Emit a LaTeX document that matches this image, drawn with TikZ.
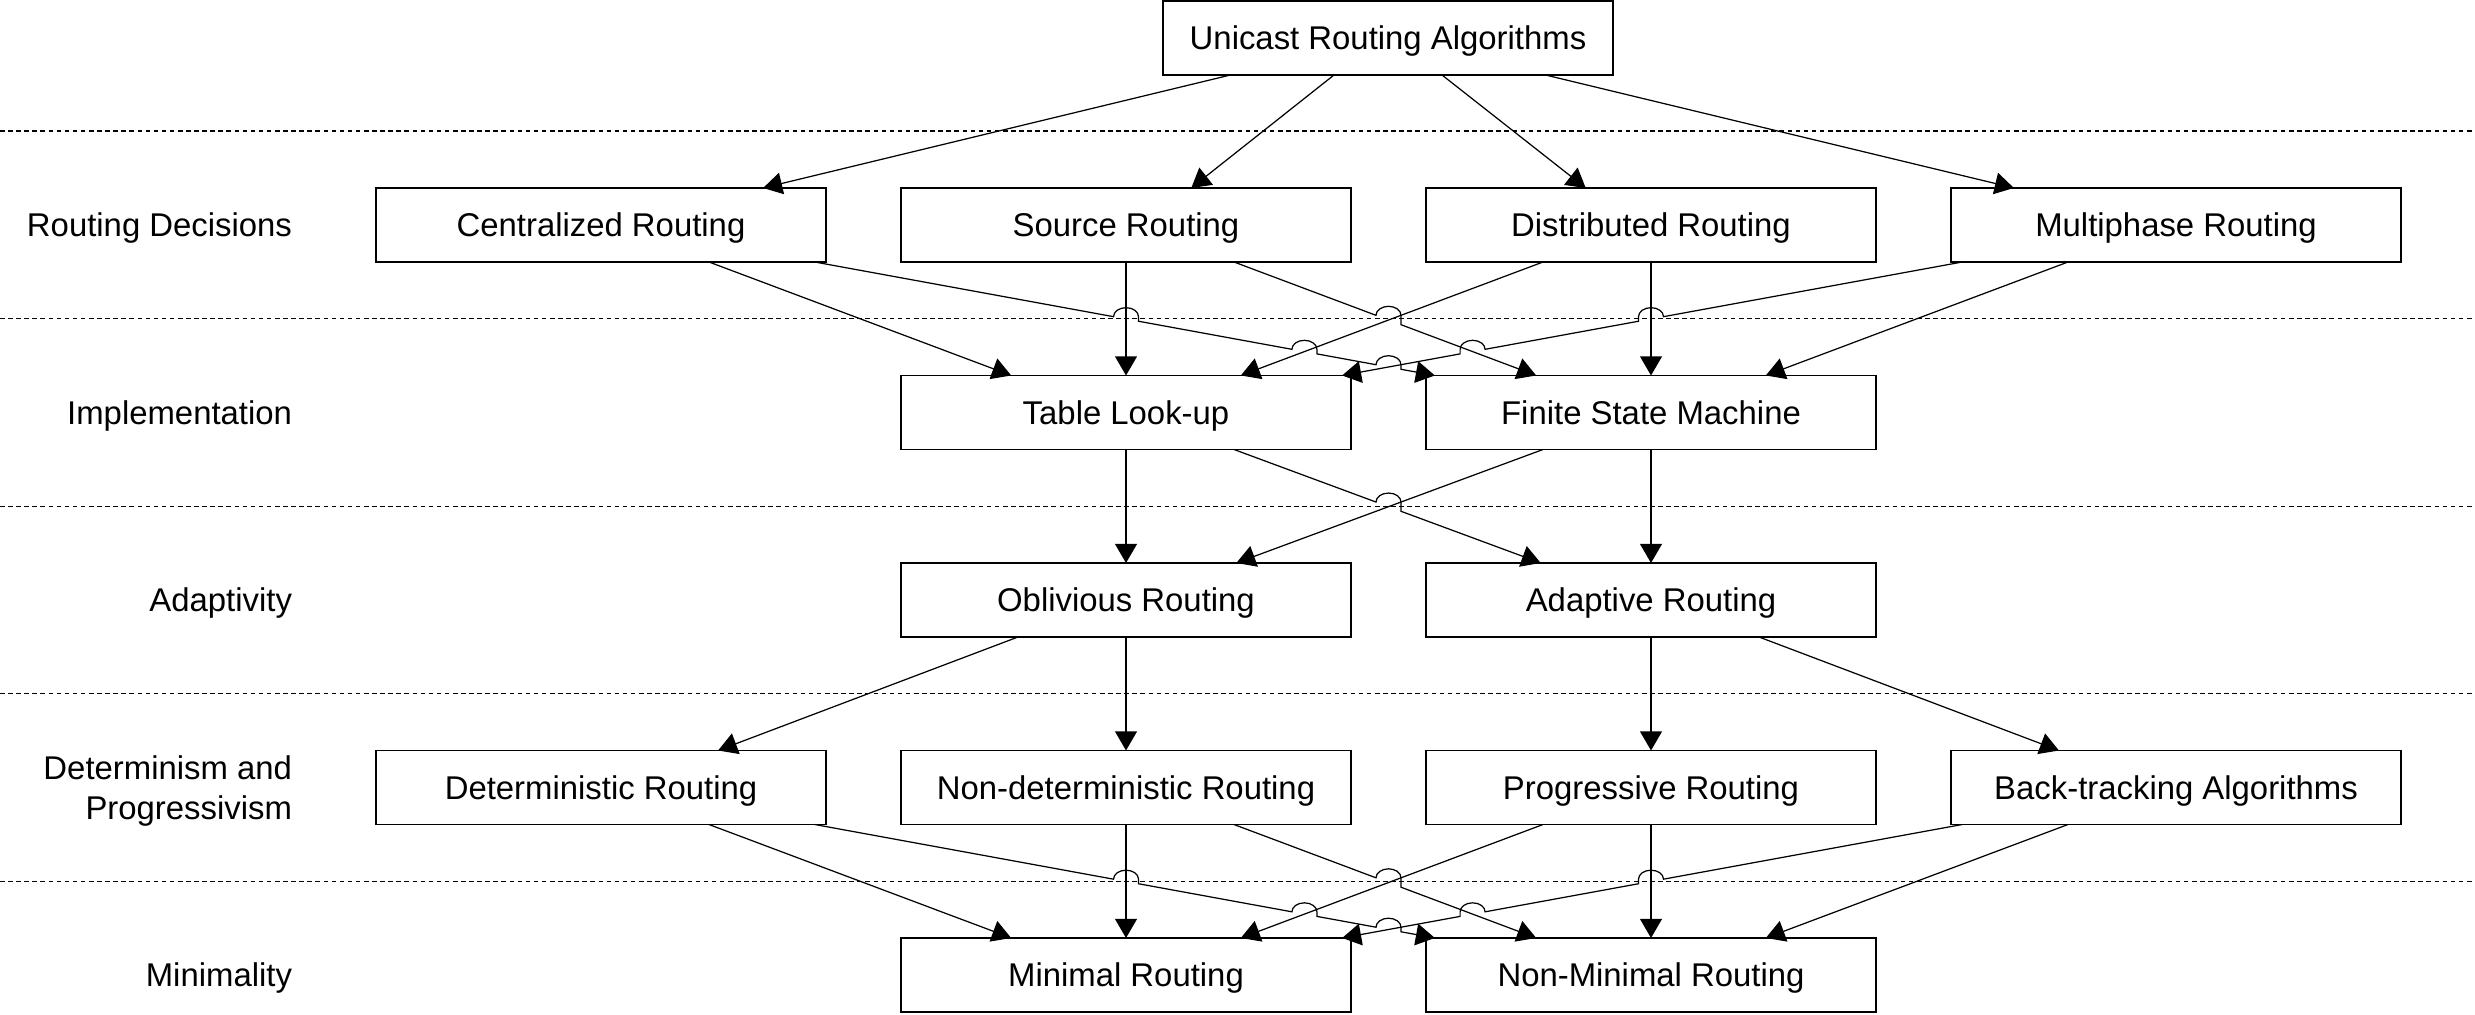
\documentclass[tikz,border=0pt]{standalone}
\usepackage{fontspec}
\setmainfont{Liberation Sans}
\usetikzlibrary{arrows.meta,calc}
\newcommand\fsz{\fontsize{9.35pt}{11.5pt}\selectfont}
\tikzset{
  box/.style={draw, line width=0.45pt, minimum width=4.5cm, minimum height=0.74cm,
              inner sep=0pt, outer sep=0pt, font=\fsz, text depth=0pt},
  lab/.style={inner sep=0pt, outer sep=0pt, font=\fsz, align=right, anchor=east, text depth=0pt},
  conn/.style={line width=0.35pt, -{Triangle[length=5.4pt,width=6.2pt]}},
  sepline/.style={line width=0.35pt, dash pattern=on 1.3pt off 1pt},
}
% bundle of 8 connectors between a row of 4 boxes and a row of 2 boxes, with line hops
\newcommand\bundle[7]{%
  \draw[conn] ($(#1.south west)!0.74!(#1.south east)$) -- ($(#5.north west)!0.245!(#5.north east)$);
  \draw[conn] ($(#1.south west)!0.975!(#1.south east)$)
     -- (1113.5,{#7-316.67}) arc[start angle=180,end angle=0,x radius=12.5,y radius=9]
     -- (1138.5,{#7-321.24}) -- (1291.9,{#7-349.31}) arc[start angle=180,end angle=0,x radius=12.5,y radius=9]
     -- (1316.9,{#7-353.89}) -- (1376,{#7-364.70}) arc[start angle=180,end angle=0,x radius=12.5,y radius=9]
     -- (1401,{#7-369.28}) -- ($(#6.north west)!0.02!(#6.north east)$);
  \draw[conn] (#2.south) -- (#5.north);
  \draw[conn] ($(#2.south west)!0.74!(#2.south east)$)
     -- (1376,{#7-315.32}) arc[start angle=180,end angle=0,x radius=12.5,y radius=9]
     -- (1401,{#7-324.71}) -- ($(#6.north west)!0.245!(#6.north east)$);
  \draw[conn] ($(#3.south west)!0.26!(#3.south east)$) -- ($(#5.north west)!0.755!(#5.north east)$);
  \draw[conn] (#3.south) -- (#6.north);
  \draw[conn] ($(#4.south west)!0.025!(#4.south east)$)
     -- (1663.5,{#7-316.67}) arc[start angle=0,end angle=180,x radius=12.5,y radius=9]
     -- (1638.5,{#7-321.24}) -- (1485.1,{#7-349.31}) arc[start angle=0,end angle=180,x radius=12.5,y radius=9]
     -- (1460.1,{#7-353.89}) -- ($(#5.north west)!0.98!(#5.north east)$);
  \draw[conn] ($(#4.south west)!0.26!(#4.south east)$) -- ($(#6.north west)!0.755!(#6.north east)$);
}
\begin{document}
\begin{tikzpicture}[x=0.01cm,y=0.01cm]
\useasboundingbox (0,0) rectangle (2475,-1015);
\fill[white] (0,0) rectangle (2475,-1015);

% separators
\foreach \yy in {131,318.75,506.25,693.75,881.25}
  \draw[sepline] (0,-\yy) -- (2475,-\yy);

% row labels
\node[lab] (lrd) at (292,-225) {Routing Decisions};
\node[lab] (lim) at (292,-412.5) {Implementation};
\node[lab] (lad) at (292,-600) {Adaptivity};
\node[lab] (ldp) at (292,-787.5) {Determinism and\\Progressivism};
\node[lab] (lmi) at (292,-975) {Minimality};

% boxes
\node[box] (uni) at (1388,-38) {Unicast Routing Algorithms};
\node[box] (cen) at (601,-225) {Centralized Routing};
\node[box] (src) at (1126,-225) {Source Routing};
\node[box] (dis) at (1651,-225) {Distributed Routing};
\node[box] (mul) at (2176,-225) {Multiphase Routing};
\node[box] (tab) at (1126,-412.5) {Table Look-up};
\node[box] (fsm) at (1651,-412.5) {Finite State Machine};
\node[box] (obl) at (1126,-600) {Oblivious Routing};
\node[box] (ada) at (1651,-600) {Adaptive Routing};
\node[box] (det) at (601,-787.5) {Deterministic Routing};
\node[box] (ndt) at (1126,-787.5) {Non-deterministic Routing};
\node[box] (pro) at (1651,-787.5) {Progressive Routing};
\node[box] (btr) at (2176,-787.5) {Back-tracking Algorithms};
\node[box] (mnr) at (1126,-975) {Minimal Routing};
\node[box] (nmr) at (1651,-975) {Non-Minimal Routing};

% root to routing decisions
\draw[conn] ($(uni.south west)!0.15!(uni.south east)$) -- ($(cen.north west)!0.86!(cen.north east)$);
\draw[conn] ($(uni.south west)!0.38!(uni.south east)$) -- ($(src.north west)!0.645!(src.north east)$);
\draw[conn] ($(uni.south west)!0.62!(uni.south east)$) -- ($(dis.north west)!0.355!(dis.north east)$);
\draw[conn] ($(uni.south west)!0.85!(uni.south east)$) -- ($(mul.north west)!0.14!(mul.north east)$);

% routing decisions to implementation
\bundle{cen}{src}{dis}{mul}{tab}{fsm}{0}

% implementation to adaptivity
\draw[conn] (tab.south) -- (obl.north);
\draw[conn] (fsm.south) -- (ada.north);
\draw[conn] ($(tab.south west)!0.74!(tab.south east)$)
   -- (1376,-502.04) arc[start angle=180,end angle=0,x radius=12.5,y radius=9]
   -- (1401,-511.29) -- ($(ada.north west)!0.255!(ada.north east)$);
\draw[conn] ($(fsm.south west)!0.26!(fsm.south east)$) -- ($(obl.north west)!0.745!(obl.north east)$);

% adaptivity to determinism
\draw[conn] ($(obl.south west)!0.26!(obl.south east)$) -- ($(det.north west)!0.76!(det.north east)$);
\draw[conn] (obl.south) -- (ndt.north);
\draw[conn] (ada.south) -- (pro.north);
\draw[conn] ($(ada.south west)!0.74!(ada.south east)$) -- ($(btr.north west)!0.24!(btr.north east)$);

% determinism to minimality
\bundle{det}{ndt}{pro}{btr}{mnr}{nmr}{-562.5}
\end{tikzpicture}
\end{document}
